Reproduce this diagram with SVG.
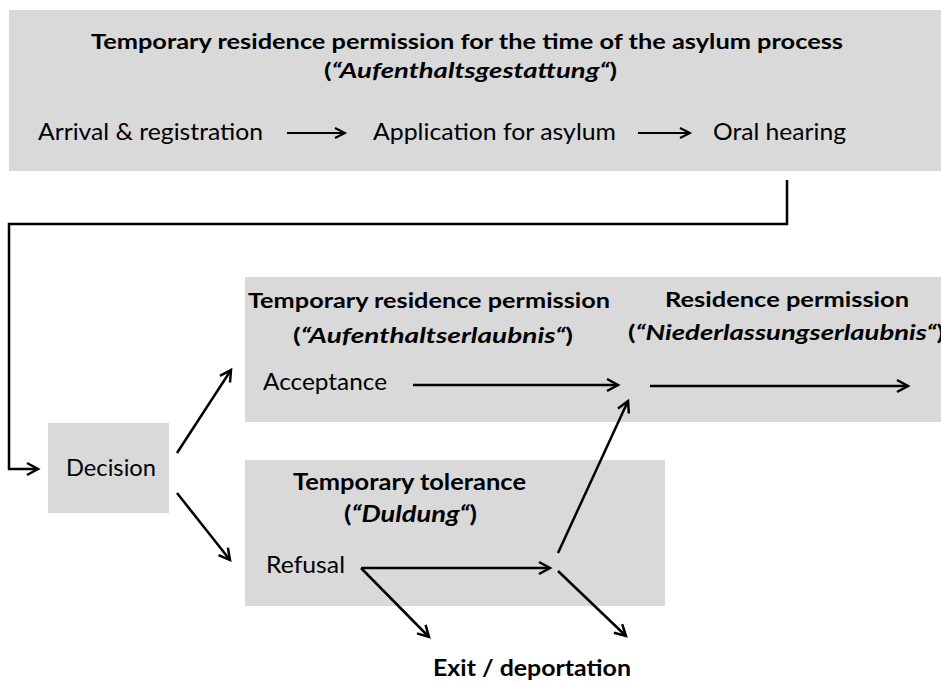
<svg xmlns="http://www.w3.org/2000/svg" width="941" height="682" viewBox="0 0 941 682">
  <defs>
    <style>
      .box { fill: #d9d9d9; }
      .t { font-family: Lato, "Liberation Sans", sans-serif; fill: #000; }
      .b { font-weight: bold; }
      .r { font-size: 23px; }
      .h { font-size: 21px; }
      .h2 { font-size: 22px; }
      .h3 { font-size: 23px; }
      .i { font-style: italic; }
      .c { fill: none; stroke: #000; stroke-width: 2.5; }
      .c2 { fill: none; stroke: #000; stroke-width: 2; }
    </style>
    <marker id="ah" markerUnits="userSpaceOnUse" markerWidth="16" markerHeight="16" refX="13" refY="8" orient="auto">
      <path d="M2,2 L13,8 L2,14" fill="none" stroke="#000" stroke-width="2.5"/>
    </marker>
    <marker id="ah2" markerUnits="userSpaceOnUse" markerWidth="16" markerHeight="16" refX="13" refY="8" orient="auto">
      <path d="M3,3 L13,8 L3,13" fill="none" stroke="#000" stroke-width="2"/>
    </marker>
  </defs>

  <g id="asylum-process">
    <rect class="box" x="9" y="10" width="932" height="161"/>
    <text class="t b h" x="91" y="49" textLength="752" lengthAdjust="spacingAndGlyphs">Temporary residence permission for the time of the asylum process</text>
    <text class="t b h" x="324" y="78" textLength="293" lengthAdjust="spacingAndGlyphs">(<tspan class="i">“Aufenthaltsgestattung“</tspan>)</text>
    <text class="t r" x="38" y="140" textLength="225" lengthAdjust="spacingAndGlyphs">Arrival &amp; registration</text>
    <text class="t r" x="373" y="140" textLength="243" lengthAdjust="spacingAndGlyphs">Application for asylum</text>
    <text class="t r" x="713" y="140" textLength="133" lengthAdjust="spacingAndGlyphs">Oral hearing</text>
  </g>

  <g id="decision">
    <rect class="box" x="48" y="423" width="121" height="90"/>
    <text class="t r" x="66" y="476" textLength="90" lengthAdjust="spacingAndGlyphs">Decision</text>
  </g>

  <g id="acceptance-box">
    <rect class="box" x="245" y="277" width="696" height="145"/>
    <text class="t b h" x="248" y="308" textLength="362" lengthAdjust="spacingAndGlyphs">Temporary residence permission</text>
    <text class="t b h" x="293" y="343" textLength="280" lengthAdjust="spacingAndGlyphs">(<tspan class="i">“Aufenthaltserlaubnis“</tspan>)</text>
    <text class="t b h" x="665" y="307" textLength="244" lengthAdjust="spacingAndGlyphs">Residence permission</text>
    <text class="t b h" x="628" y="340" textLength="316" lengthAdjust="spacingAndGlyphs">(<tspan class="i">“Niederlassungserlaubnis“</tspan>)</text>
    <text class="t r" x="263" y="390" textLength="124" lengthAdjust="spacingAndGlyphs">Acceptance</text>
  </g>

  <g id="refusal-box">
    <rect class="box" x="245" y="460" width="420" height="146"/>
    <text class="t b h2" x="293" y="490" textLength="233" lengthAdjust="spacingAndGlyphs">Temporary tolerance</text>
    <text class="t b h2" x="344" y="522" textLength="133" lengthAdjust="spacingAndGlyphs">(<tspan class="i">“Duldung“</tspan>)</text>
    <text class="t r" x="266" y="573" textLength="79" lengthAdjust="spacingAndGlyphs">Refusal</text>
  </g>

  <g id="exit">
    <text class="t b h3" x="433" y="676" textLength="198" lengthAdjust="spacingAndGlyphs">Exit / deportation</text>
  </g>

  <g id="connectors">
    <line class="c2" x1="287" y1="133" x2="345" y2="133" marker-end="url(#ah2)"/>
    <line class="c2" x1="638" y1="133" x2="690" y2="133" marker-end="url(#ah2)"/>
    <polyline class="c" points="787,180 787,224 9,224 9,469 38,469" marker-end="url(#ah)"/>
    <line class="c" x1="177" y1="453" x2="231" y2="370" marker-end="url(#ah)"/>
    <line class="c" x1="177" y1="493" x2="230" y2="560" marker-end="url(#ah)"/>
    <line class="c" x1="413" y1="385" x2="618" y2="385" marker-end="url(#ah)"/>
    <line class="c" x1="650" y1="386" x2="908" y2="386" marker-end="url(#ah)"/>
    <line class="c" x1="361" y1="568" x2="550" y2="568" marker-end="url(#ah)"/>
    <line class="c" x1="361" y1="568" x2="429" y2="637" marker-end="url(#ah)"/>
    <line class="c" x1="558" y1="553" x2="628" y2="401" marker-end="url(#ah)"/>
    <line class="c" x1="558" y1="571" x2="626" y2="636" marker-end="url(#ah)"/>
  </g>
</svg>
